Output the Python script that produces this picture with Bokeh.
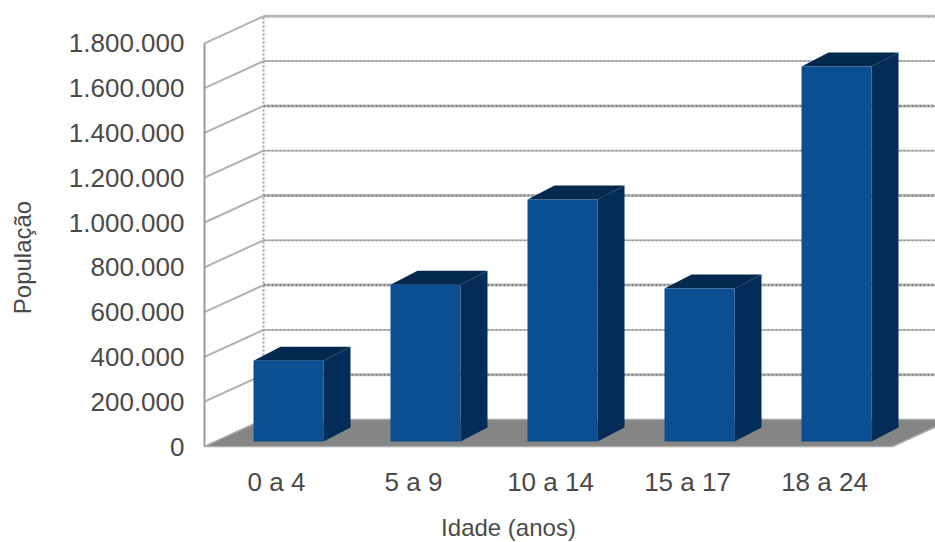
from math import pi

from bokeh.embed import file_html
from bokeh.models import FixedTicker, Label
from bokeh.plotting import figure
from bokeh.resources import INLINE

# Population by age group
categories = ["0 a 4", "5 a 9", "10 a 14", "15 a 17", "18 a 24"]
population = [360000, 700000, 1080000, 683000, 1674000]
y_ticks = [0, 200000, 400000, 600000, 800000, 1000000, 1200000, 1400000, 1600000, 1800000]
y_tick_labels = ["0", "200.000", "400.000", "600.000", "800.000", "1.000.000",
                 "1.200.000", "1.400.000", "1.600.000", "1.800.000"]

# The frame fills the page; the origin of the data sits at (204, 446) on the page
PAGE_W, PAGE_H = 935, 542
ORIGIN_X, ORIGIN_Y = 204, 446
CAT_PX = 137.0
VALUE_PX = 224 / 1e6

def xpx(px):
    return px / CAT_PX

def ypx(px):
    return px / VALUE_PX

# Oblique projection used for the 3D look
WALL_DX, WALL_DY = xpx(59), ypx(27)
BAR_W = xpx(70)
BAR_SHIFT_X, BAR_BASE_Y = xpx(15.5), ypx(5)
BAR_DX, BAR_DY = xpx(27), ypx(14)

p = figure(width=PAGE_W, height=PAGE_H, output_backend="svg", toolbar_location=None,
           x_range=(xpx(-ORIGIN_X), xpx(PAGE_W - ORIGIN_X)),
           y_range=(ypx(ORIGIN_Y - PAGE_H), ypx(ORIGIN_Y)),
           min_border=0, background_fill_color="white", outline_line_color=None)
p.grid.visible = False

# Floor
n = len(categories)
floor_end = n + xpx(3)
p.patch([0, floor_end, floor_end + WALL_DX, WALL_DX], [0, 0, WALL_DY, WALL_DY],
        fill_color="#858585", line_color="#a8a8a8", line_width=1.5)

# Gridlines along the back wall and side wall
levels = [t for t in y_ticks if t > 0]
for i, t in enumerate(levels):
    heavy = i % 2 == 0
    wall_y = t + WALL_DY
    top_line = t == max(y_ticks)
    p.segment(WALL_DX, wall_y, n + WALL_DX + 1, wall_y,
              line_color="#c4c4c4", line_width=3 if heavy or top_line else 2)
    p.segment(WALL_DX, wall_y, n + WALL_DX + 1, wall_y,
              line_color="#a8a8a8" if top_line else "#7d7d7d",
              line_width=2 if heavy else 1, line_dash="2 2")
    p.segment(0, t, WALL_DX, wall_y, line_color="#b0b0b0", line_width=2)
p.segment(WALL_DX, WALL_DY, WALL_DX, max(y_ticks) + WALL_DY,
          line_color="#a0a0a0", line_width=2, line_dash="2 2")

# Bars: side face, top face, then front face
for i, v in enumerate(population):
    x0 = i + 0.5 + BAR_SHIFT_X - BAR_W / 2
    x1 = x0 + BAR_W
    y0 = BAR_BASE_Y
    y1 = v + BAR_BASE_Y
    p.patch([x1, x1 + BAR_DX, x1 + BAR_DX, x1],
            [y0, y0 + BAR_DY, y1 + BAR_DY, y1], fill_color="#032c58", line_color=None)
    p.patch([x0, x1, x1 + BAR_DX, x0 + BAR_DX],
            [y1, y1, y1 + BAR_DY, y1 + BAR_DY], fill_color="#03294f", line_color=None)
    p.quad(left=x0, right=x1, bottom=y0, top=y1, fill_color="#0b4e92", line_color=None)

# Axes run through the data origin, inside the frame
FONT = "Liberation Sans"
TEXT_COLOR = "#4a4a4a"

ya = p.yaxis[0]
ya.fixed_location = 0
ya.ticker = FixedTicker(ticks=y_ticks)
ya.major_label_overrides = dict(zip(y_ticks, y_tick_labels))
ya.major_tick_line_color = None
ya.minor_tick_line_color = None
ya.axis_line_color = "#999999"
ya.axis_line_width = 2
ya.bounds = (0, max(y_ticks))
ya.major_label_standoff = 14
ya.major_label_text_font = FONT
ya.major_label_text_font_size = "26px"
ya.major_label_text_color = TEXT_COLOR

cat_ticks = [i + 0.5 + xpx(3.5) for i in range(n)]
xa = p.xaxis[0]
xa.fixed_location = 0
xa.ticker = FixedTicker(ticks=cat_ticks)
xa.major_label_overrides = dict(zip(cat_ticks, categories))
xa.major_tick_line_color = None
xa.minor_tick_line_color = None
xa.axis_line_color = None
xa.major_label_standoff = 14
xa.major_label_text_font = FONT
xa.major_label_text_font_size = "26px"
xa.major_label_text_color = TEXT_COLOR

# Axis titles
for text, sx, sy, angle in [("Idade (anos)", 508, 15, 0), ("População", 22, PAGE_H - 257, pi / 2)]:
    p.add_layout(Label(x=sx, y=sy, x_units="screen", y_units="screen", text=text, angle=angle,
                       text_align="center", text_baseline="middle", text_font=FONT,
                       text_font_size="24px", text_color=TEXT_COLOR))

open("out.html", "w").write(file_html(p, INLINE))
